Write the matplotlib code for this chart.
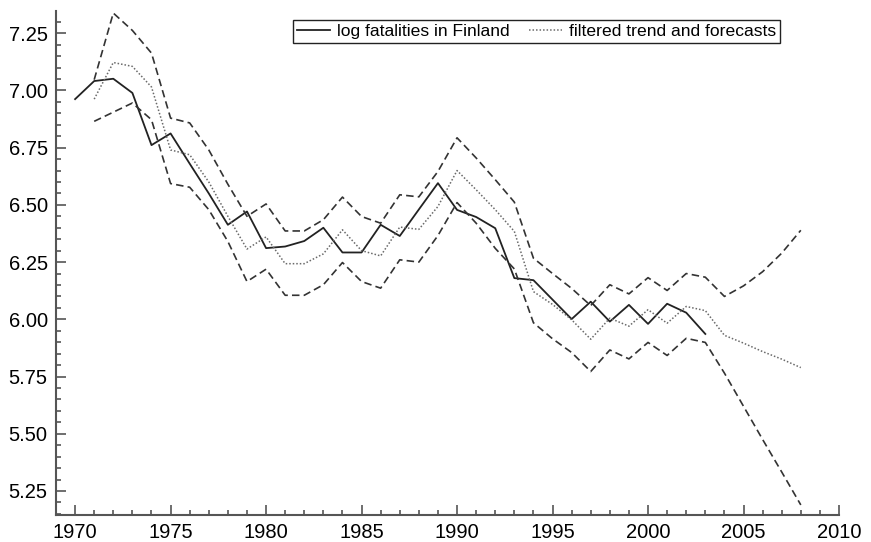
import matplotlib
matplotlib.use("Agg")
import matplotlib.pyplot as plt
from matplotlib.ticker import MultipleLocator, FormatStrFormatter

# Observed log fatalities, 1970-2003
obs_years = list(range(1970, 2004))
log_fatalities = [
    6.962, 7.041, 7.051, 6.989, 6.761, 6.812, 6.680, 6.550, 6.413, 6.471,
    6.311, 6.318, 6.342, 6.400, 6.292, 6.292, 6.413, 6.364, 6.480, 6.595,
    6.478, 6.447, 6.398, 6.180, 6.171, 6.086, 6.001, 6.077, 5.990, 6.063,
    5.980, 6.068, 6.029, 5.936,
]

# Filtered trend with forecasts and its interval, 1971-2008
trend_years = list(range(1971, 2009))
trend = [
    6.962, 7.122, 7.105, 7.015, 6.740, 6.719, 6.600, 6.450, 6.307, 6.360,
    6.243, 6.243, 6.286, 6.391, 6.300, 6.277, 6.403, 6.393, 6.493, 6.650,
    6.566, 6.479, 6.384, 6.121, 6.065, 5.998, 5.913, 6.005, 5.970, 6.042,
    5.983, 6.056, 6.038, 5.930, 5.896, 5.859, 5.826, 5.789,
]
upper = [
    7.047, 7.338, 7.262, 7.163, 6.879, 6.858, 6.740, 6.590, 6.450, 6.504,
    6.386, 6.386, 6.435, 6.534, 6.449, 6.420, 6.544, 6.535, 6.646, 6.793,
    6.705, 6.610, 6.512, 6.267, 6.200, 6.135, 6.060, 6.151, 6.111, 6.182,
    6.126, 6.200, 6.184, 6.100, 6.146, 6.208, 6.289, 6.389,
]
lower = [
    6.865, 6.905, 6.945, 6.872, 6.593, 6.577, 6.479, 6.340, 6.165, 6.219,
    6.105, 6.105, 6.151, 6.248, 6.165, 6.136, 6.260, 6.250, 6.366, 6.510,
    6.420, 6.310, 6.220, 5.985, 5.915, 5.855, 5.772, 5.866, 5.827, 5.899,
    5.842, 5.917, 5.899, 5.765, 5.620, 5.475, 5.333, 5.189,
]

plt.rcParams["font.family"] = ["Liberation Sans", "DejaVu Sans"]

fig = plt.figure(figsize=(8.71, 5.42), dpi=100)
ax = fig.add_axes([56 / 871, 27 / 542, 783 / 871, 504 / 542])

ax.plot(obs_years, log_fatalities, color="#222222", lw=1.3, ls="-",
        label="log fatalities in Finland")
ax.plot(trend_years, trend, color="#6a6a6a", lw=1.1, ls=(0, (1, 1.3)),
        label="filtered trend and forecasts")
ax.plot(trend_years, upper, color="#333333", lw=1.2, ls=(0, (4.5, 2.5)))
ax.plot(trend_years, lower, color="#333333", lw=1.2, ls=(0, (4.5, 2.5)))

ax.set_xlim(1969, 2010)
ax.set_ylim(5.145, 7.347)

ax.xaxis.set_major_locator(MultipleLocator(5))
ax.xaxis.set_minor_locator(MultipleLocator(1))
ax.yaxis.set_major_locator(MultipleLocator(0.25))
ax.yaxis.set_minor_locator(MultipleLocator(0.05))
ax.yaxis.set_major_formatter(FormatStrFormatter("%.2f"))

for side in ("top", "right"):
    ax.spines[side].set_visible(False)
for side in ("left", "bottom"):
    ax.spines[side].set_color("#555555")
    ax.spines[side].set_linewidth(1.5)

ax.tick_params(which="both", direction="in", color="#555555", width=1.2,
               labelsize=14.5, labelcolor="black", top=False, right=False)
ax.tick_params(which="major", length=7, pad=6)
ax.tick_params(which="minor", length=3.5)

leg = ax.legend(loc="upper left", bbox_to_anchor=(293 / 871, 1 - 20 / 542),
                bbox_transform=fig.transFigure, ncol=2, fontsize=12.6,
                frameon=True, fancybox=False, framealpha=1, borderpad=0.22,
                handlelength=1.9, handletextpad=0.4, columnspacing=1.1,
                borderaxespad=0)
leg.get_frame().set_edgecolor("#222222")
leg.get_frame().set_linewidth(1.0)

fig.savefig("out.png", dpi=100)
